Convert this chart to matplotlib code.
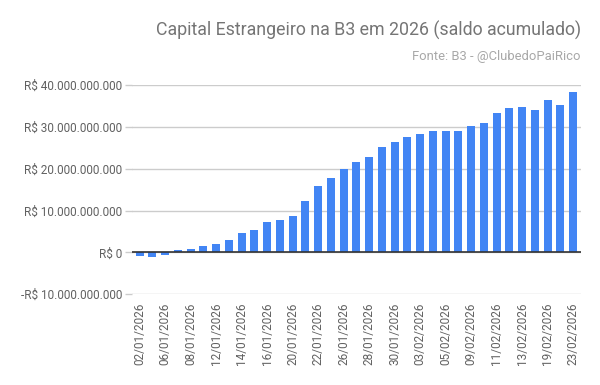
import numpy as np
import matplotlib.pyplot as plt
from matplotlib.ticker import FuncFormatter

plt.rcParams['font.family'] = ['Roboto', 'DejaVu Sans']

# trading days (dd/mm/2026)
datas = ["02/01", "05/01", "06/01", "07/01", "08/01", "09/01", "12/01", "13/01",
         "14/01", "15/01", "16/01", "19/01", "20/01", "21/01", "22/01", "23/01",
         "26/01", "27/01", "28/01", "29/01", "30/01", "02/02", "03/02", "04/02",
         "05/02", "06/02", "09/02", "10/02", "11/02", "12/02", "13/02", "18/02",
         "19/02", "20/02", "23/02"]
datas = [d + "/2026" for d in datas]

# saldo acumulado, in billions of R$
saldo_bi = [-0.8, -1.05, -0.55, 0.55, 0.8, 1.5, 2.0, 2.9, 4.6, 5.3, 7.2, 7.7,
            8.6, 12.2, 15.8, 17.7, 20.0, 21.5, 22.9, 25.1, 26.3, 27.7, 28.2,
            29.1, 29.1, 29.1, 30.3, 31.0, 33.4, 34.4, 34.8, 34.1, 36.5, 35.3,
            38.4]
saldo = np.array(saldo_bi) * 1e9

y_ticks = [-10e9, 0, 10e9, 20e9, 30e9, 40e9]


def fmt_brl(v, pos):
    s = "{:,.0f}".format(abs(v)).replace(",", ".")
    if v < 0:
        return "-R$ " + s
    return "R$ " + s


fig = plt.figure(figsize=(6, 3.85), dpi=100)
ax = fig.add_axes([0.22, 0.236, 0.748, 0.543])

x = np.arange(len(datas))
ax.bar(x, saldo, width=0.62, color="#4285F4", zorder=3)

ax.set_ylim(-10e9, 40e9)
ax.set_xlim(-0.6, len(datas) - 0.4)
ax.set_yticks(y_ticks)
ax.yaxis.set_major_formatter(FuncFormatter(fmt_brl))
ax.grid(axis="y", color="#cccccc", linewidth=1, zorder=0)
ax.axhline(0, color="#333333", linewidth=1.2, zorder=4)

ax.set_xticks(x[::2])
ax.set_xticklabels(datas[::2], rotation=90)
ax.tick_params(axis="both", labelsize=8.5, labelcolor="#616161")
ax.tick_params(axis="x", length=0, pad=6)
ax.tick_params(axis="y", length=5, width=1, color="#cccccc", pad=2)
for s in ax.spines.values():
    s.set_visible(False)

fig.text(0.968, 0.922, "Capital Estrangeiro na B3 em 2026 (saldo acumulado)",
         ha="right", va="center", fontsize=12.8, color="#757575")
fig.text(0.968, 0.852, "Fonte: B3 - @ClubedoPaiRico",
         ha="right", va="center", fontsize=9.4, color="#a8a8a8")

fig.savefig("out.png", dpi=100, facecolor="white")
